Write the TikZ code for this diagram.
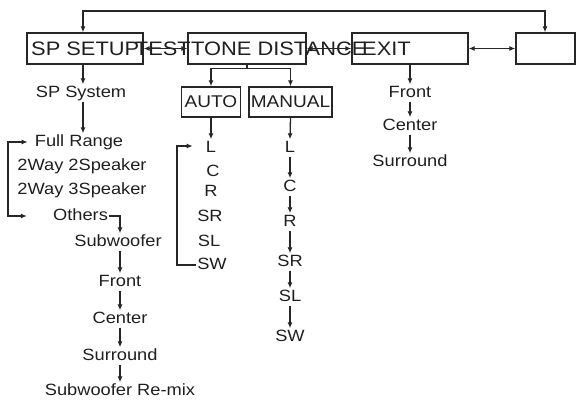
\documentclass[tikz,border=0pt]{standalone}
\usepackage{fontspec}
\setmainfont{Liberation Sans}[FakeStretch=1.12]
\usetikzlibrary{arrows.meta,calc}
\begin{document}
\begin{tikzpicture}[x=1pt,y=-1pt,
 every node/.style={text=black!88},
 ln/.style={line width=1.3pt,draw=black!85},
 arr/.style={ln,-{Latex[length=6pt,width=5pt]}},
 darr/.style={ln,{Latex[length=6pt,width=5pt]}-{Latex[length=6pt,width=5pt]}},
 box/.style={ln,rectangle,minimum height=31pt,inner sep=0pt},
 big/.style={font=\fontsize{19.5}{22}\selectfont,inner sep=0pt},
 lab/.style={font=\fontsize{16.3}{18}\selectfont,inner sep=1pt,text height=12pt,text depth=3pt},
 sel/.style={ln,rectangle,font=\fontsize{17}{19}\selectfont,minimum height=30pt,inner sep=0pt}]
\useasboundingbox (0,0) rectangle (578,401);
% main boxes
\node[box,minimum width=116pt] (spsetup) at (85,48.5) {};
\node[box,minimum width=118pt] (tone) at (247,48.5) {};
\node[box,minimum width=116pt] (exit) at (410,48.5) {};
\node[box,minimum width=59pt] (blank) at (545.5,48.5) {};
% box texts
\node[big,anchor=west] (tsp) at (31,49) {SP SETUP};
\node[big,anchor=east] (ttest) at (191,49) {TEST};
\node[big,anchor=west] (ttone) at (191,49) {TONE DISTANCE};
\node[big,anchor=west] (texit) at (362,49) {EXIT};
% top loop
\coordinate (t1) at (83,11);
\coordinate (t2) at (545,11);
\draw[darr] (spsetup.north -| t1) -- (t1) -- (t2) -- (blank.north -| t2);
% horizontal double arrows
\draw[darr] (spsetup.east) -- (tone.west);
\draw[darr] (tone.east) -- (exit.west);
\draw[darr] (exit.east) -- (blank.west);
% SP SETUP column
\node[lab] (spsys) at (81,93) {SP System};
\node[lab] (full) at (79,142) {Full Range};
\node[lab] (w22) at (82,166) {2Way 2Speaker};
\node[lab] (w23) at (82,190) {2Way 3Speaker};
\node[lab] (others) at (80.5,216) {Others};
\node[lab] (sub) at (118,242) {Subwoofer};
\node[lab] (front) at (120,282) {Front};
\node[lab] (center) at (120,319) {Center};
\node[lab] (surround) at (120,356) {Surround};
\node[lab] (remix) at (120,391) {Subwoofer Re-mix};
\draw[arr] (spsetup.south -| 83,0) -- (spsys.north -| 83,0);
\draw[arr] (spsys.south -| 83,0) -- (full.north -| 83,0);
\coordinate (sb) at (8,0);
\draw[darr] ([xshift=-6pt]full.west) -- (full.west -| sb) -- (others.west -| sb) -- ([xshift=-25pt]others.west);
\draw[arr] (others.east) -| ([xshift=2pt]sub.north);
\draw[arr] ([xshift=2pt]sub.south) -- (front.north);
\draw[arr] (front.south) -- (center.north);
\draw[arr] (center.south) -- (surround.north);
\draw[arr] (surround.south) -- (remix.north);
% AUTO / MANUAL
\node[sel,minimum width=59pt] (auto) at (211,102) {AUTO};
\node[sel,minimum width=83pt] (manual) at (290.5,102) {MANUAL};
\draw[arr] (tone.south) -- ++(0,4) -| (auto.north);
\draw[arr] (tone.south) -- ++(0,4) -| (manual.north);
% AUTO column
\node[lab] (aL) at (211,148) {L};
\node[lab] (aC) at (213,172) {C};
\node[lab] (aR) at (211,192) {R};
\node[lab] (aSR) at (210,217) {SR};
\node[lab] (aSL) at (209,242) {SL};
\node[lab] (aSW) at (212,265) {SW};
\draw[arr] (auto.south) -- (aL.north);
\coordinate (ab) at (177,0);
\draw[arr] (aSW.west) -- (aSW.west -| ab) |- ([xshift=-12pt,yshift=2pt]aL.west);
% MANUAL column
\node[lab] (mL) at (290,148) {L};
\node[lab] (mC) at (290,187) {C};
\node[lab] (mR) at (290,222) {R};
\node[lab] (mSR) at (290,262) {SR};
\node[lab] (mSL) at (290,297) {SL};
\node[lab] (mSW) at (290,337) {SW};
\draw[arr] (manual.south) -- (mL.north);
\draw[arr] (mL.south) -- (mC.north);
\draw[arr] (mC.south) -- (mR.north);
\draw[arr] (mR.south) -- (mSR.north);
\draw[arr] (mSR.south) -- (mSL.north);
\draw[arr] (mSL.south) -- (mSW.north);
% EXIT column
\node[lab] (eFront) at (410,93) {Front};
\node[lab] (eCenter) at (410,126) {Center};
\node[lab] (eSur) at (410,162) {Surround};
\draw[arr] (exit.south) -- (eFront.north);
\draw[arr] (eFront.south) -- (eCenter.north);
\draw[arr] (eCenter.south) -- (eSur.north);
\end{tikzpicture}
\end{document}
